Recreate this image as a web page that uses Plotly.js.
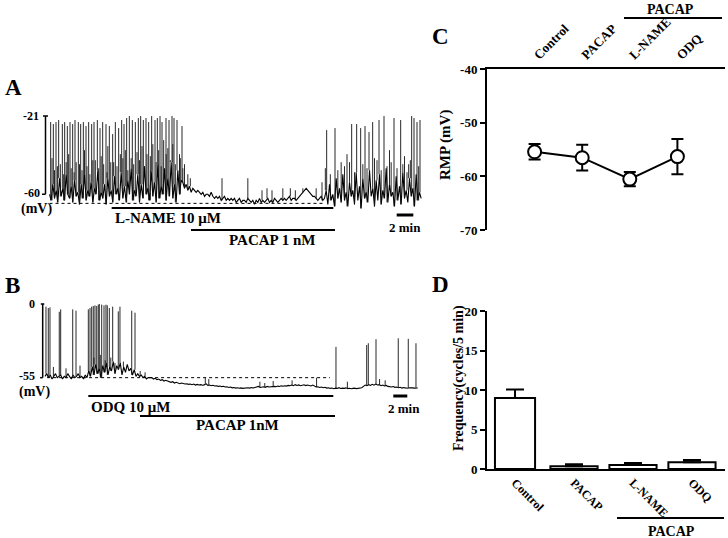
<!DOCTYPE html>
<html><head><meta charset="utf-8">
<script src="https://cdn.plot.ly/plotly-3.0.1.min.js"></script>
<style>html,body{margin:0;padding:0;background:#fff}#chart{width:728px;height:538px}</style>
</head><body><div id="chart"></div>
<script>
// ================= DATA =================
// Panel A: membrane potential trace (mV), baseline sampled every 0.2 min
const aSampleMin = 0.2;
const aBaseline = [
-60,-63,-55,-62,-58,-64,-52,-61,-57,-63,-50,-60,-62,-56,-64,-53,-61,-59,-65,-55,
-62,-50,-63,-58,-61,-54,-64,-57,-60,-48,-63,-59,-62,-55,-65,-52,-61,-58,-64,-51,
-60,-57,-63,-49,-62,-56,-64,-53,-60,-47,-63,-58,-61,-50,-64,-55,-62,-46,-60,-57,
-63,-48,-61,-54,-64,-45,-62,-56,-60,-47,-63,-52,-61,-44,-62,-55,-64,-48,-60,-53,
-54,-57,-55,-58,-56,-59,-57,-58,-59,-58,
-59,-60,-59,-61,-60,-60,-61,-59,-61,-62,
-61,-62,-61,-63,-62,-61,-63,-62,-63,-62,
-63,-62,-64,-63,-62,-64,-63,-63,-64,-62,
-63,-64,-63,-65,-63,-64,-62,-64,-63,-64,
-63,-62,-64,-63,-64,-62,-63,-64,-63,-62,
-63,-62,-63,-62,-61,-63,-62,-62,-63,-62,
-61,-60,-59,-58,-57,-58,-59,-60,-61,-61,
-62,-63,-62,-61,-63,
-62,-58,-65,-55,-63,-60,-66,-52,-62,-57,-64,-50,-63,-59,-66,-54,-61,-58,-65,-49,
-63,-56,-67,-52,-62,-59,-64,-48,-61,-57,-66,-53,-63,-50,-65,-58,-62,-47,-64,-55,
-61,-59,-66,-51,-63,-56,-65,-49,-62,-58,-64,-52,-61,-57,-66,-50,-63,-59,-62
];
const aSpikeTimes = [
0.14,0.46,0.78,1.10,1.54,1.82,2.14,2.46,2.78,3.06,3.46,3.74,4.06,4.38,4.70,5.06,5.34,5.74,6.06,6.38,
6.78,7.18,7.58,7.90,8.30,8.66,8.94,9.26,9.58,9.94,10.30,10.66,10.94,11.26,11.58,11.90,12.26,12.66,12.94,13.26,
13.50,13.98,14.34,14.70,14.94,15.30,15.90,
0.3,1.3,2.3,3.2,4.2,5.2,6.2,7.0,7.7,8.5,9.1,9.8,10.5,11.1,11.7,12.4,13.1,13.7,14.2,14.8,15.6,16.2,16.6,
0.6,0.95,1.7,2.0,2.6,2.95,3.6,3.9,4.5,4.85,5.5,5.9,6.5,6.9,7.35,8.1,8.8,9.4,10.1,10.8,11.4,12.1,12.8,13.4,14.0,14.5,15.1,15.7,16.0,16.9,
20.7,23.8,25.5,26.1,26.7,28.0,28.9,29.5,30.4,32.0,32.7,33.1,
33.26,34.26,36.26,36.86,37.34,37.86,38.34,38.78,39.54,40.14,41.34,42.14,43.46,43.74,44.1,44.46,
35.0,35.7,39.0,40.8,42.6,43.1,33.7,34.6,35.4,36.0,36.6,37.6,38.1,39.3,39.8,40.5,41.0,41.7,42.4,42.9,43.3,44.3
];
const aSpikePeaks = [
-24,-25,-24,-23,-25,-24,-26,-24,-25,-23,-24,-25,-24,-26,-24,-25,-24,-23,-27,-24,
-25,-26,-30,-24,-27,-23,-25,-22,-21,-23,-24,-22,-21,-23,-22,-24,-21,-23,-22,-21,
-24,-22,-23,-21,-22,-23,-26,
-42,-45,-40,-44,-38,-43,-41,-36,-44,-40,-38,-42,-39,-36,-40,-35,-38,-33,-37,-35,-40,-45,-50,
-48,-46,-50,-44,-47,-49,-45,-48,-46,-50,-43,-47,-45,-49,-44,-46,-42,-48,-45,-43,-47,-41,-44,-46,-40,-43,-45,-42,-47,-52,
-52,-52,-58,-57,-58,-57,-57,-58,-57,-57,-54,-47,
-28,-27,-25,-25,-27,-26,-29,-24,-23,-21,-22,-23,-21,-22,-24,-23,
-44,-40,-42,-38,-41,-45,-50,-48,-46,-44,-49,-45,-47,-43,-48,-46,-44,-47,-45,-49,-43,-46
];
const aDrugLabels = ['L-NAME 10 \u03bcM', 'PACAP 1 nM'];
const aDrugStart = [7.46, 16.98];
const aDrugEnd = [34.06, 34.26];
const aScaleMv = [-21, -60];
const aDotLevel = -64.5;

// Panel B: membrane potential trace (mV), baseline sampled every 0.25 min
const bSampleMin = 0.25;
const bBaseline = [
-54,-52,-55,-53,-56,-54,-52,-55,-54,-53,-56,-54,-55,-52,-54,-56,-53,-55,-54,-52,-55,-54,-56,-53,-55,
-50,-54,-47,-53,-45,-52,-48,-55,-46,-51,-44,-53,-47,-50,-43,-52,-46,-49,-44,-53,-47,-51,-45,-50,-48,-53,-49,-54,
-52,-54,-53,-55,-54,-56,-55,-55,
-55,-56,-55.5,-56.5,-56,-57,-56.5,-57.5,-57,-57.5,
-58,-58.5,-58,-59,-58.5,-59,-59.5,-59,-59.5,-59.7,
-59.5,-60,-59.7,-60.3,-59.8,-60.5,-60,-60.5,-60.2,-60.6,
-60.4,-59.5,-60.8,-60.5,-61,-60.7,-61.2,-61,-61.5,-61.2,
-61.7,-61.4,-62,-61.8,-62.3,-62,-62.6,-62.3,-62.8,-62.5,
-62.9,-62.6,-63,-62.7,-62.9,-62.5,-62.8,-62.4,-62.7,-62.4,
-62.2,-61.5,-62.3,-62,-61.8,-62.2,-61.5,-62,-61.7,-61.9,
-61.5,-61.8,-61.3,-61.6,-61.1,-61.4,-61,-61.3,-60.8,-61,
-60.5,-61,-60.2,-60.8,-60.4,-61,-60.6,-60.3,-60.9,-60.5,
-60.8,-61.2,-60.5,-61.5,-62,-61.8,-62.3,-62,-62.5,-62.2,
-62.8,-62.5,-63,-62.7,-63.2,-62.8,-63,-62.5,-63.1,-62.8,
-63,-62.6,-63.2,-62.9,-63.3,-63,-62.8,-63.2,-62.9,-63.1,
-62.5,-61.5,-60.5,-61,-60.2,-60.8,-60,-60.6,-59.8,-60.5,
-60.2,-61,-60.5,-61.2,-60.8,-61.5,-61.8,-62,-61.6,-62.2,
-62,-62.5,-62.2,-62.8,-62.4,-62.6,-62.9,-62.5,-62.8,-62.6,
-62.8,-62.5,-62.7
];
const bSpikeTimes = [
0.14,0.47,0.71,2.04,2.24,3.96,4.43,6.19,6.43,6.67,6.9,7.14,7.39,7.61,7.76,8.1,8.43,8.71,8.9,9.19,9.67,10.47,10.71,12.39,12.86,
1.2,3.0,5.0,7.0,7.9,8.6,9.4,10.0,11.2,11.8,13.6,14.3,
22.9,23.4,30.7,31.4,32.6,35.3,38.8,43.2,47.8,48.6,
41.57,45.96,46.19,47.29,50.47,51.9,53.0
];
const bSpikePeaks = [
-2,-3,-2.5,-5.8,-4,-4,-5,-4,-3,-2,-1.5,-1,-1.5,-0.5,0,-0.5,-1,-0.5,-1,-3,-2,-5.5,-2,-5,-6.5,
-47,-48,-46,-40,-38,-42,-40,-44,-43,-45,-50,-51,
-55,-56,-58,-59,-57.5,-57,-55,-58,-56,-57,
-32,-30.6,-29.3,-26.3,-25.6,-26,-29.3
];
const bDrugLabels = ['ODQ 10 \u03bcM', 'PACAP 1nM'];
const bDrugStart = [6.19, 13.57];
const bDrugEnd = [41.19, 41.43];
const bScaleMv = [0, -55];
const bDotLevel = -55;

// Panel C: resting membrane potential
const cCategories = ['Control', 'PACAP', 'L-NAME', 'ODQ'];
const cRmp = [-55.4, -56.5, -60.5, -56.3];
const cRmpSem = [1.45, 2.4, 1.35, 3.3];
const cTickVals = [-70, -60, -50, -40];
const cTickText = ['-70', '-60', '-50', '-40'];

// Panel D: frequency
const dCategories = ['Control', 'PACAP', 'L-NAME', 'ODQ'];
const dFreq = [9.0, 0.35, 0.5, 0.85];
const dFreqSem = [1.05, 0.25, 0.25, 0.3];
const dTickVals = [0, 5, 10, 15, 20];

// ================= BUILD =================
const W = 728, H = 538;
const SERIF = 'Liberation Serif, Times New Roman, serif';
const px = v => v / W;
const py = v => 1 - v / H;

function traceSegments(baseline, dt, times, peaks) {
  const bx = baseline.map((_, i) => +(i * dt).toFixed(3));
  const sx = [], sy = [];
  times.forEach((t, k) => {
    const idx = Math.min(baseline.length - 1, Math.max(0, Math.round(t / dt)));
    sx.push(t, t, null);
    sy.push(baseline[idx], peaks[k], null);
  });
  return { bx, sx, sy };
}
const A = traceSegments(aBaseline, aSampleMin, aSpikeTimes, aSpikePeaks);
const B = traceSegments(bBaseline, bSampleMin, bSpikeTimes, bSpikePeaks);

const traces = [
  { x: A.bx, y: aBaseline, xaxis: 'x', yaxis: 'y', mode: 'lines', line: { color: '#000', width: 1.1 }, hoverinfo: 'skip' },
  { x: A.sx, y: A.sy, xaxis: 'x', yaxis: 'y', mode: 'lines', line: { color: '#111', width: 0.9 }, hoverinfo: 'skip' },
  { x: B.bx, y: bBaseline, xaxis: 'x2', yaxis: 'y2', mode: 'lines', line: { color: '#000', width: 1.1 }, hoverinfo: 'skip' },
  { x: B.sx, y: B.sy, xaxis: 'x2', yaxis: 'y2', mode: 'lines', line: { color: '#111', width: 0.9 }, hoverinfo: 'skip' },
  { x: cCategories, y: cRmp, xaxis: 'x3', yaxis: 'y3', mode: 'lines+markers',
    line: { color: '#000', width: 2 },
    marker: { symbol: 'circle', size: 13, color: '#fff', line: { color: '#000', width: 2 } },
    error_y: { type: 'data', array: cRmpSem, visible: true, color: '#000', thickness: 2, width: 6 } },
  { type: 'bar', x: dCategories, y: dFreq, xaxis: 'x4', yaxis: 'y4',
    width: [0.68, 0.8, 0.8, 0.8],
    marker: { color: '#fff', line: { color: '#000', width: 2 } },
    error_y: { type: 'data', symmetric: false, array: dFreqSem, arrayminus: dFreq.map(() => 0), visible: true, color: '#000', thickness: 2, width: 9 } }
];

const tickFont = { family: SERIF, size: 13, color: '#000', weight: 'bold' };
const catFontC = { family: SERIF, size: 13, color: '#000', weight: 'bold' };
const catFontD = { family: SERIF, size: 12, color: '#000', weight: 'bold' };
const hidden = { visible: false, fixedrange: true };

const layout = {
  width: W, height: H,
  margin: { l: 0, r: 0, t: 0, b: 0 },
  paper_bgcolor: '#fff', plot_bgcolor: 'rgba(0,0,0,0)',
  showlegend: false,
  font: { family: SERIF, color: '#000' },
  xaxis: Object.assign({ domain: [px(40), px(425)], range: [-1.14, 45.06], anchor: 'y' }, hidden),
  yaxis: Object.assign({ domain: [py(214.4), py(110)], range: [-70, -18], anchor: 'x' }, hidden),
  xaxis2: Object.assign({ domain: [px(40), px(425)], range: [-0.714, 54.29], anchor: 'y2' }, hidden),
  yaxis2: Object.assign({ domain: [py(405), py(298)], range: [-75.4, 4.48], anchor: 'x2' }, hidden),
  xaxis3: { domain: [px(487), px(725)], range: [-1, 4], anchor: 'y3', side: 'top', type: 'category',
    showline: true, linewidth: 2, linecolor: '#000', ticks: '', showgrid: false, zeroline: false,
    tickangle: -45, tickfont: catFontC },
  yaxis3: { domain: [py(230), py(69.3)], range: [-70, -40], anchor: 'x3', tickmode: 'array', tickvals: cTickVals, ticktext: cTickText,
    showline: true, linewidth: 2, linecolor: '#000', ticks: 'outside', ticklen: 5, tickwidth: 2, tickcolor: '#000',
    showgrid: false, zeroline: false, tickfont: tickFont },
  xaxis4: { domain: [px(487), px(725)], range: [-0.475, 3.56], anchor: 'y4', type: 'category',
    showline: true, linewidth: 2, linecolor: '#000', ticks: '', showgrid: false, zeroline: false,
    tickangle: 45, tickfont: catFontD },
  yaxis4: { domain: [py(469), py(311)], range: [0, 20], anchor: 'x4', tickmode: 'array', tickvals: dTickVals,
    showline: true, linewidth: 2, linecolor: '#000', ticks: 'outside', ticklen: 5, tickwidth: 2, tickcolor: '#000',
    showgrid: false, zeroline: false, tickfont: tickFont },
  shapes: [], annotations: []
};

function txt(text, x, y, size, opts) {
  layout.annotations.push(Object.assign({
    text: text, x: px(x), y: py(y), xref: 'paper', yref: 'paper', showarrow: false,
    xanchor: 'center', yanchor: 'middle',
    font: { family: SERIF, size: size, color: '#000', weight: 'bold' }
  }, opts || {}));
}
function pline(x0, y0, x1, y1, w) {
  layout.shapes.push({ type: 'line', xref: 'paper', yref: 'paper',
    x0: px(x0), x1: px(x1), y0: py(y0), y1: py(y1), line: { color: '#000', width: w } });
}
function dline(xr, yr, x0, y0, x1, y1, w, dash) {
  layout.shapes.push({ type: 'line', xref: xr, yref: yr, x0: x0, x1: x1, y0: y0, y1: y1,
    line: { color: '#000', width: w, dash: dash || 'solid' } });
}

// Panel letters
txt('A', 13, 88, 23); txt('B', 12, 285, 23); txt('C', 440, 37, 23); txt('D', 440, 284, 23);

// A: mV scale bar and labels
dline('x', 'y', -0.48, aScaleMv[0], -0.48, aScaleMv[1], 1.5);
dline('x', 'y', -0.78, aScaleMv[0], -0.18, aScaleMv[0], 1.5);
dline('x', 'y', -0.9, aScaleMv[1], -0.48, aScaleMv[1], 1.5);
txt(String(aScaleMv[0]), 41, 116, 12, { xanchor: 'right' });
txt(String(aScaleMv[1]), 42, 193, 12, { xanchor: 'right' });
txt('(mV)', 36, 209, 14);
dline('x', 'y', 0, aDotLevel, 33, aDotLevel, 1, 'dot');
// A: drug bars
[208, 230].forEach((yy, i) => {
  layout.shapes.push({ type: 'line', xref: 'x', yref: 'paper', x0: aDrugStart[i], x1: aDrugEnd[i], y0: py(yy), y1: py(yy), line: { color: '#000', width: 2 } });
});
txt(aDrugLabels[0], 113, 218, 15, { xanchor: 'left' });
txt(aDrugLabels[1], 272, 240, 15);
// A: 2 min scale bar
layout.shapes.push({ type: 'line', xref: 'x', yref: 'paper', x0: 41.66, x1: 43.66, y0: py(215), y1: py(215), line: { color: '#000', width: 3 } });
txt('2 min', 405, 227, 13);

// B: mV scale bar and labels
dline('x2', 'y2', -0.33, bScaleMv[0], -0.33, bScaleMv[1], 1.5);
dline('x2', 'y2', -0.6, bScaleMv[0], -0.1, bScaleMv[0], 1.5);
dline('x2', 'y2', -0.7, bScaleMv[1], -0.33, bScaleMv[1], 1.5);
txt(String(bScaleMv[0]), 37, 304, 12, { xanchor: 'right' });
txt(String(bScaleMv[1]), 37, 376, 12, { xanchor: 'right' });
txt('(mV)', 34, 392, 14);
dline('x2', 'y2', 0.3, bDotLevel, 40.7, bDotLevel, 1, 'dot');
[396, 416].forEach((yy, i) => {
  layout.shapes.push({ type: 'line', xref: 'x2', yref: 'paper', x0: bDrugStart[i], x1: bDrugEnd[i], y0: py(yy), y1: py(yy), line: { color: '#000', width: 2 } });
});
txt(bDrugLabels[0], 89, 407, 15, { xanchor: 'left' });
txt(bDrugLabels[1], 237, 425, 15);
layout.shapes.push({ type: 'line', xref: 'x2', yref: 'paper', x0: 49.76, x1: 51.76, y0: py(396), y1: py(396), line: { color: '#000', width: 3 } });
txt('2 min', 404, 408, 13);

// C: group bracket and title
pline(624, 18, 722, 18, 2);
txt('PACAP', 670, 9, 14);
txt('RMP (mV)', 446, 145, 15, { textangle: -90 });

// D: group bracket and title
pline(617, 518, 724, 518, 2);
txt('PACAP', 671, 531, 14);
txt('Frequency(cycles/5 min)', 459, 378, 14, { textangle: -90 });

Plotly.newPlot('chart', traces, layout, { staticPlot: true, displayModeBar: false });
</script>
</body></html>
